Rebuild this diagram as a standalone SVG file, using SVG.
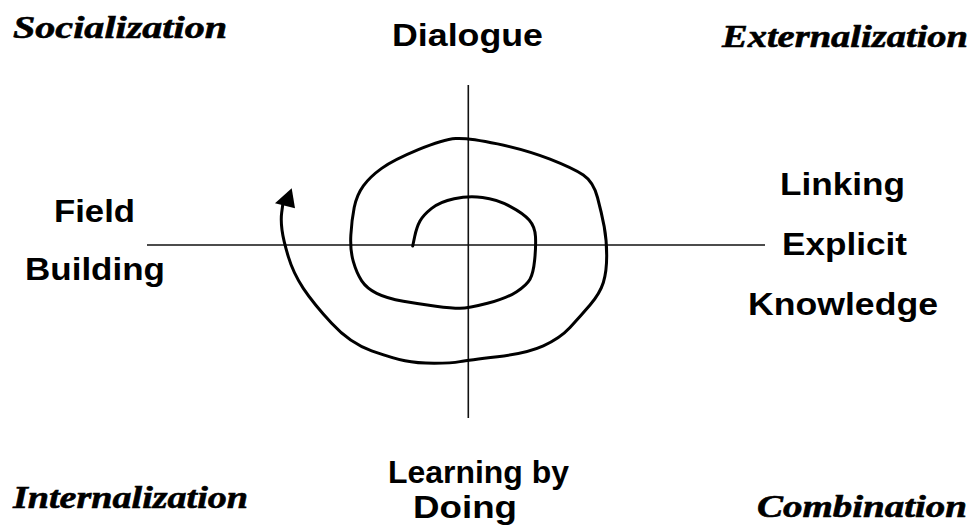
<svg xmlns="http://www.w3.org/2000/svg" width="976" height="525" viewBox="0 0 976 525">
<style>
.phase{font-family:"Liberation Serif","Times New Roman",serif;font-weight:bold;font-style:italic;font-size:32px;fill:#000;stroke:#000;stroke-width:0.6}
.lbl{font-family:"Liberation Sans",Arial,sans-serif;font-weight:bold;font-size:32px;fill:#000}
.axis{stroke:#111;stroke-width:1.6;fill:none}
.spiral{stroke:#000;stroke-width:3;fill:none;stroke-linejoin:round;stroke-linecap:round}
</style>
<rect width="976" height="525" fill="#fff"/>
<g id="connectors">
<line class="axis" x1="147" y1="245" x2="765" y2="245"/>
<line class="axis" x1="468.3" y1="85" x2="468.3" y2="418"/>
<path class="spiral" d="M412.7,246 L414.7,236.5 Q416.7,227 420,221 Q423.3,215 431.65,208.35 Q440,201.7 454.15,198.7 Q468.3,195.7 482.5,197.5 Q496.7,199.3 510,206.3 Q523.3,213.3 529.15,220 Q535,226.7 535.5,236.7 Q536,246.7 534.65,260 Q533.3,273.3 530,279.15 Q526.7,285 516.7,291.65 Q506.7,298.3 487.5,303.3 Q468.3,308.3 460,308.3 Q451.7,308.3 435.85,306.15 Q420,304 403.35,301.15 Q386.7,298.3 376.7,293.3 Q366.7,288.3 361.7,280.8 Q356.7,273.3 353.35,261.65 Q350,250 350.85,235 Q351.7,220 354.2,207.5 Q356.7,195 363.35,185.85 Q370,176.7 381.65,168.35 Q393.3,160 418.3,149.65 Q443.3,139.3 455.8,138.5 Q468.3,137.7 497.5,143.85 Q526.7,150 550,159.15 Q573.3,168.3 583.3,175 Q593.3,181.7 597.5,197.5 Q601.7,213.3 604.2,226.65 Q606.7,240 606.7,255.85 Q606.7,271.7 603.35,282.5 Q600,293.3 590,305 Q580,316.7 570,327.5 Q560,338.3 543.35,345.8 Q526.7,353.3 497.5,356.65 Q468.3,360 460,361.65 Q451.7,363.3 434.2,363.3 Q416.7,363.3 405,360.8 Q393.3,358.3 371.65,350.8 Q350,343.3 331.65,323.3 Q313.3,303.3 303.3,288.3 Q293.3,273.3 288.3,256.65 Q283.3,240 282,230 Q280.7,220 281.7,212.5 L282.7,205"/>
<polygon points="291.7,188.3 275,203.3 295,208.3" fill="#000"/>
</g>
<g id="socialization"><text class="phase" x="13" y="38" textLength="214" lengthAdjust="spacingAndGlyphs">Socialization</text></g>
<g id="externalization"><text class="phase" x="722" y="47" textLength="246" lengthAdjust="spacingAndGlyphs">Externalization</text></g>
<g id="internalization"><text class="phase" x="13" y="508" textLength="235" lengthAdjust="spacingAndGlyphs">Internalization</text></g>
<g id="combination"><text class="phase" x="757" y="517" textLength="210" lengthAdjust="spacingAndGlyphs">Combination</text></g>
<g id="dialogue"><text class="lbl" x="392" y="46" textLength="151" lengthAdjust="spacingAndGlyphs">Dialogue</text></g>
<g id="field-building">
<text class="lbl" x="54" y="222" textLength="81" lengthAdjust="spacingAndGlyphs">Field</text>
<text class="lbl" x="25" y="280" textLength="140" lengthAdjust="spacingAndGlyphs">Building</text>
</g>
<g id="linking-explicit-knowledge">
<text class="lbl" x="780" y="195" textLength="125" lengthAdjust="spacingAndGlyphs">Linking</text>
<text class="lbl" x="782" y="255" textLength="125" lengthAdjust="spacingAndGlyphs">Explicit</text>
<text class="lbl" x="748" y="315" textLength="190" lengthAdjust="spacingAndGlyphs">Knowledge</text>
</g>
<g id="learning-by-doing">
<text class="lbl" x="388" y="483" textLength="181" lengthAdjust="spacingAndGlyphs">Learning by</text>
<text class="lbl" x="413" y="518" font-size="30" textLength="104" lengthAdjust="spacingAndGlyphs">Doing</text>
</g>
</svg>
